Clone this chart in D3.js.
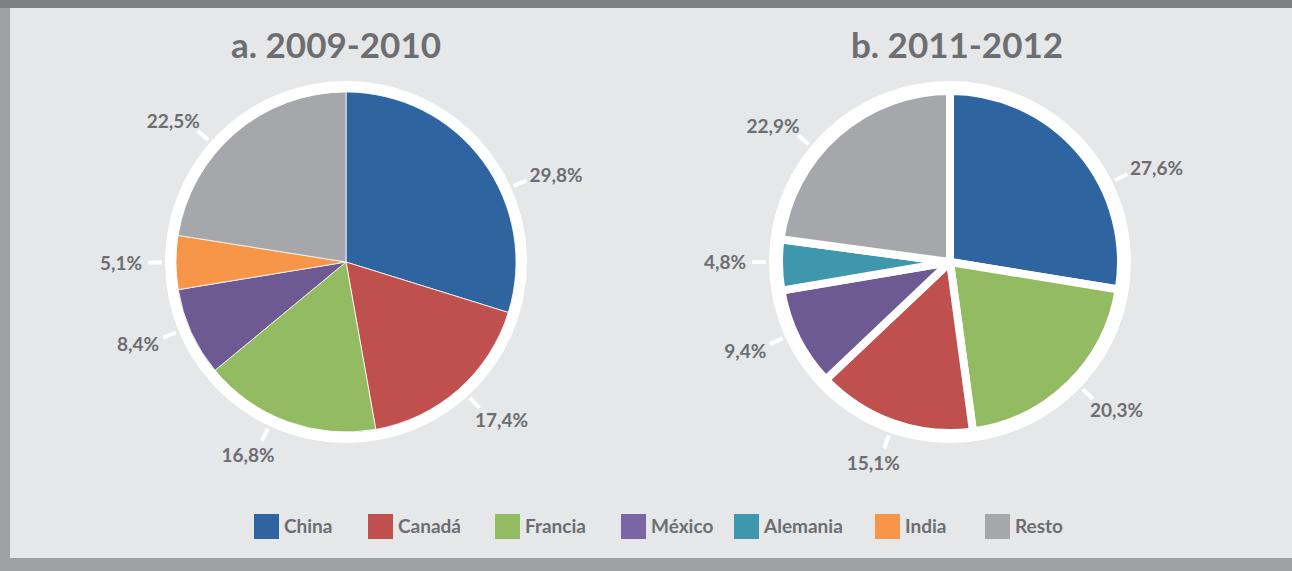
<!DOCTYPE html>
<html>
<head>
<meta charset="utf-8">
<script src="https://cdn.jsdelivr.net/npm/d3@7"></script>
<style>
  html, body { margin: 0; padding: 0; background: #e6e7e8; }
  svg { display: block; }
  text { font-family: Lato, "Open Sans", sans-serif; font-weight: 700; fill: #6d6e71; }
</style>
</head>
<body>
<svg id="chart" width="1292" height="571"></svg>
<script>
// Categories and colours
const categories = ["China", "Canadá", "Francia", "México", "Alemania", "India", "Resto"];
const colors = ["#2e64a0", "#c0504d", "#93bb62", "#6e5a93", "#3f97ae", "#f79548", "#a6a7ab"];
const legendColors = ["#2e64a0", "#c0504d", "#93bb62", "#7b66a4", "#3f97ae", "#f79548", "#a6a7ab"];

// Period a: 2009-2010 (slice order clockwise from 12 o'clock)
const titleA = "a. 2009-2010";
const sliceCatsA = ["China", "Canadá", "Francia", "México", "India", "Resto"];
const valuesA = [29.8, 17.4, 16.8, 8.4, 5.1, 22.5];
const labelsA = ["29,8%", "17,4%", "16,8%", "8,4%", "5,1%", "22,5%"];

// Period b: 2011-2012
const titleB = "b. 2011-2012";
const sliceCatsB = ["China", "Francia", "Canadá", "México", "Alemania", "Resto"];
const valuesB = [27.6, 20.3, 15.1, 9.4, 4.8, 22.9];
const labelsB = ["27,6%", "20,3%", "15,1%", "9,4%", "4,8%", "22,9%"];

// Leader-line angle nudges (degrees) so labels clear each other
const nudgeA = [12, -1, 5, 2, 0, -8];
const nudgeB = [14, -2, 0, 2, 1, -9];

const svg = d3.select("#chart");
const W = 1292, H = 571;

// Frame
svg.append("rect").attr("x", 0).attr("y", 0).attr("width", W).attr("height", H).attr("fill", "#e6e7e8");
svg.append("rect").attr("x", 0).attr("y", 0).attr("width", W).attr("height", 8).attr("fill", "#7f8084");
svg.append("rect").attr("x", 0).attr("y", 8).attr("width", 10).attr("height", H - 8).attr("fill", "#a0a1a4");
svg.append("rect").attr("x", 0).attr("y", 558).attr("width", W).attr("height", H - 558).attr("fill", "#a0a1a4");

const colorScale = d3.scaleOrdinal().domain(categories).range(colors);

function drawPie(cx, cy, title, titleX, cats, values, labels, nudge, gap) {
  const g = svg.append("g").attr("transform", `translate(${cx},${cy})`);
  const rIn = 170;
  const pie = d3.pie().sort(null).value(d => d.v);
  const data = pie(cats.map((c, i) => ({ c, v: values[i], label: labels[i], nudge: nudge[i] })));

  // White outer ring
  g.append("circle").attr("r", 181).attr("fill", "#ffffff");

  const arc = d3.arc().innerRadius(0).outerRadius(gap ? 171 : rIn);
  g.selectAll("path.slice").data(data).join("path")
    .attr("class", "slice")
    .attr("d", arc)
    .attr("fill", d => colorScale(d.data.c))
    .attr("stroke", "#ffffff")
    .attr("stroke-width", gap ? 8 : 0.8)
    .attr("stroke-linejoin", "round");

  // Leader ticks and percentage labels
  data.forEach(d => {
    const a = (d.startAngle + d.endAngle) / 2 + d.data.nudge * Math.PI / 180;
    const s = Math.sin(a), c = -Math.cos(a);
    g.append("line")
      .attr("x1", s * 184).attr("y1", c * 184)
      .attr("x2", s * 198).attr("y2", c * 198)
      .attr("stroke", "#ffffff").attr("stroke-width", 4);
    const t = g.append("text")
      .attr("text-anchor", "middle")
      .attr("dominant-baseline", "central")
      .attr("font-size", 19)
      .text(d.data.label);
    const bb = t.node().getBBox();
    const px = s * 204 + s * bb.width / 2;
    const py = c * 204 + c * 9;
    t.attr("x", px).attr("y", py);
  });

  svg.append("text")
    .attr("x", titleX).attr("y", 58)
    .attr("text-anchor", "middle")
    .attr("font-size", 35)
    .text(title);
}

drawPie(346, 262, titleA, 336, sliceCatsA, valuesA, labelsA, nudgeA, false);
drawPie(950, 262, titleB, 957, sliceCatsB, valuesB, labelsB, nudgeB, true);

// Legend
const legendX = [254, 368, 495, 621, 734, 875, 985];
const legend = svg.append("g");
categories.forEach((c, i) => {
  legend.append("rect")
    .attr("x", legendX[i]).attr("y", 514)
    .attr("width", 25).attr("height", 25)
    .attr("fill", legendColors[i]);
  legend.append("text")
    .attr("x", legendX[i] + 30).attr("y", 533)
    .attr("font-size", 19)
    .text(c);
});
</script>
</body>
</html>
